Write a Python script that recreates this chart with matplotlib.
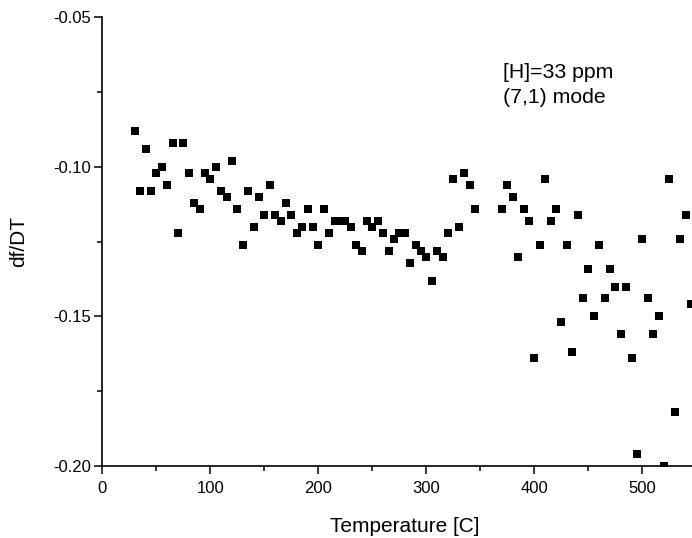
import matplotlib
matplotlib.use("Agg")
import matplotlib.pyplot as plt
from matplotlib.ticker import MultipleLocator, FixedLocator

plt.rcParams['font.family'] = ['Liberation Sans', 'DejaVu Sans']

temperature = [30, 35, 40, 45, 50, 55, 60, 65, 70, 75, 80, 85, 90, 95, 100,
               105, 110, 115, 120, 125, 130, 135, 140, 145, 150, 155, 160, 165,
               170, 175, 180, 185, 190, 195, 200, 205, 210, 215, 220, 225, 230,
               235, 240, 245, 250, 255, 260, 265, 270, 275, 280, 285, 290, 295,
               300, 305, 310, 315, 320, 325, 330, 335, 340, 345,
               370, 375, 380, 385, 390, 395, 400, 405, 410, 415, 420, 425, 430,
               435, 440, 445, 450, 455, 460, 465, 470, 475, 480, 485, 490, 495,
               500, 505, 510, 515, 520, 525, 530, 535, 540, 545]
dfdt = [-0.088, -0.108, -0.094, -0.108, -0.102, -0.100, -0.106, -0.092, -0.122,
        -0.092, -0.102, -0.112, -0.114, -0.102, -0.104, -0.100, -0.108, -0.110,
        -0.098, -0.114, -0.126, -0.108, -0.120, -0.110, -0.116, -0.106, -0.116,
        -0.118, -0.112, -0.116, -0.122, -0.120, -0.114, -0.120, -0.126, -0.114,
        -0.122, -0.118, -0.118, -0.118, -0.120, -0.126, -0.128, -0.118, -0.120,
        -0.118, -0.122, -0.128, -0.124, -0.122, -0.122, -0.132, -0.126, -0.128,
        -0.130, -0.138, -0.128, -0.130, -0.122, -0.104, -0.120, -0.102, -0.106,
        -0.114,
        -0.114, -0.106, -0.110, -0.130, -0.114, -0.118, -0.164, -0.126, -0.104,
        -0.118, -0.114, -0.152, -0.126, -0.162, -0.116, -0.144, -0.134, -0.150,
        -0.126, -0.144, -0.134, -0.140, -0.156, -0.140, -0.164, -0.196, -0.124,
        -0.144, -0.156, -0.150, -0.200, -0.104, -0.182, -0.124, -0.116, -0.146]

xticks = [0, 100, 200, 300, 400, 500]
yticks = [-0.20, -0.15, -0.10, -0.05]
ytick_labels = ["-0.20", "-0.15", "-0.10", "-0.05"]
annotation = ["[H]=33 ppm", "(7,1) mode"]

W, H = 692, 538
fig = plt.figure(figsize=(W / 100, H / 100), dpi=100)
left_px, top_px, bottom_px = 102.3, 17.3, 466.0
ax = fig.add_axes([left_px / W, 1 - bottom_px / H, 1 - left_px / W,
                   (bottom_px - top_px) / H])

ax.plot(temperature, dfdt, linestyle='none', marker='s', markersize=6.2,
        markeredgewidth=0, color='black', clip_on=True)

ax.set_xlim(0, 546)
ax.set_ylim(-0.20, -0.05)
ax.xaxis.set_major_locator(FixedLocator(xticks))
ax.xaxis.set_minor_locator(MultipleLocator(50))
ax.yaxis.set_major_locator(FixedLocator(yticks))
ax.yaxis.set_minor_locator(FixedLocator([-0.175, -0.125, -0.075]))
ax.set_yticklabels(ytick_labels)

for s in ['top', 'right']:
    ax.spines[s].set_visible(False)
for s in ['left', 'bottom']:
    ax.spines[s].set_linewidth(1.2)

ax.tick_params(which='major', direction='out', length=5.8, width=1.1,
               labelsize=12)
ax.tick_params(which='minor', direction='out', length=3.6, width=1.1)
ax.tick_params(axis='y', which='major', pad=2.6)
ax.tick_params(axis='x', which='major', pad=5.0)

ax.set_xlabel("Temperature [C]", fontsize=15)
ax.xaxis.set_label_coords(280 / 546, -0.113)
ax.set_ylabel("df/DT", fontsize=15)
ax.yaxis.set_label_coords(-0.125, 0.5)

fig.text(503.3 / W, 1 - 77.7 / H, annotation[0], fontsize=15.3, va='baseline',
         ha='left')
fig.text(503.3 / W, 1 - 103.3 / H, annotation[1], fontsize=15.3, va='baseline',
         ha='left')

fig.savefig("out.png", dpi=100)
